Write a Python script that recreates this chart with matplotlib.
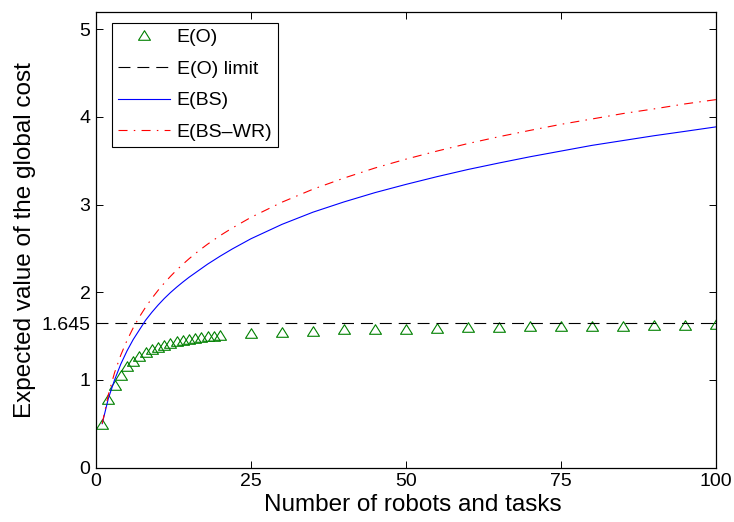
import matplotlib
matplotlib.use("Agg")
import matplotlib.pyplot as plt
from matplotlib.path import Path

plt.rcParams['font.family'] = ['Liberation Sans', 'DejaVu Sans']
plt.rcParams['lines.scale_dashes'] = False

# Optimal assignment cost (simulated), sampled sizes
n_opt = [1, 2, 3, 4, 5, 6, 7, 8, 9, 10, 11, 12, 13, 14, 15, 16, 17, 18, 19, 20,
         25, 30, 35, 40, 45, 50, 55, 60, 65, 70, 75, 80, 85, 90, 95, 100]
e_opt = [0.50, 0.78, 0.94, 1.06, 1.16, 1.22, 1.275, 1.315, 1.35, 1.378,
         1.40, 1.42, 1.438, 1.453, 1.465, 1.477, 1.487, 1.496, 1.504, 1.512,
         1.535, 1.548, 1.562, 1.575, 1.578, 1.582, 1.596, 1.598, 1.605, 1.610,
         1.612, 1.620, 1.620, 1.625, 1.626, 1.633]

# Asymptotic limit of the optimal cost
e_opt_limit = 1.645

# Bidding-strategy costs
n_curve = [1, 2, 3, 4, 5, 6, 7, 8, 9, 10, 11, 12, 13, 14, 15, 16, 17, 18, 20,
           22, 25, 30, 35, 40, 45, 50, 55, 60, 65, 70, 75, 80, 85, 90, 95, 100]
e_bs = [0.50, 0.79, 1.00, 1.18, 1.33, 1.46, 1.57, 1.68, 1.77, 1.852, 1.927,
        1.995, 2.057, 2.115, 2.17, 2.22, 2.27, 2.32, 2.41, 2.494, 2.61, 2.774,
        2.913, 3.03, 3.136, 3.23, 3.318, 3.40, 3.474, 3.545, 3.61, 3.675, 3.73,
        3.785, 3.835, 3.886]
e_bswr = [0.50, 0.833, 1.083, 1.283, 1.45, 1.593, 1.718, 1.829, 1.929, 2.020,
          2.103, 2.180, 2.252, 2.318, 2.381, 2.440, 2.495, 2.548, 2.645, 2.733,
          2.854, 3.027, 3.175, 3.302, 3.417, 3.518, 3.610, 3.696, 3.774, 3.846,
          3.915, 3.976, 4.038, 4.091, 4.148, 4.197]

x_ticks = [0, 25, 50, 75, 100]
y_ticks = [0, 1, 1.645, 2, 3, 4, 5]
y_tick_labels = ['0', '1', '1.645', '2', '3', '4', '5']

fig = plt.figure(figsize=(7.34, 5.22), dpi=100)
ax = fig.add_axes([96 / 734, 1 - 467.5 / 522, 620 / 734, 455.8 / 522])

# wide open triangle marker
tri = Path([(0, 0.8), (-1, -0.8), (1, -0.8), (0, 0.8)],
           [Path.MOVETO, Path.LINETO, Path.LINETO, Path.CLOSEPOLY])
green = (0, 0.5, 0)

ax.plot(n_opt, e_opt, linestyle='none', marker=tri, ms=8.6, mfc='none',
        mec=green, mew=0.8, label='E(O)')
ax.axhline(e_opt_limit, color='k', lw=0.8, dashes=(8.6, 5.0), label='E(O) limit')
ax.plot(n_curve, e_bs, color='b', lw=0.8, label='E(BS)')
ax.plot(n_curve, e_bswr, color='r', lw=0.8, dashes=(6.5, 4.5, 1.1, 4.5),
        label='E(BS\u2013WR)')

ax.set_xlim(0, 100)
ax.set_ylim(0, 5.2)
ax.set_xticks(x_ticks)
ax.set_xticklabels([str(t) for t in x_ticks])
ax.set_yticks(y_ticks)
ax.set_yticklabels(y_tick_labels)
ax.tick_params(direction='in', length=4.8, width=0.7, top=True, right=True,
               labelsize=14, pad=4, colors='k')
for s in ax.spines.values():
    s.set_linewidth(0.9)
    s.set_color('k')

ax.set_xlabel('Number of robots and tasks', fontsize=17.5)
ax.xaxis.set_label_coords(0.511, -0.058)
ax.set_ylabel('Expected value of the global cost', fontsize=17.5)

leg = ax.legend(loc='upper left', bbox_to_anchor=(16 / 620, 1 - 11 / 455.8),
                borderaxespad=0, fontsize=14, handlelength=2.68,
                handletextpad=0.35, labelspacing=0.72, borderpad=0.3,
                numpoints=1, fancybox=False, edgecolor='k', framealpha=1)
leg.get_frame().set_linewidth(0.8)

fig.savefig('out.png', dpi=100)
